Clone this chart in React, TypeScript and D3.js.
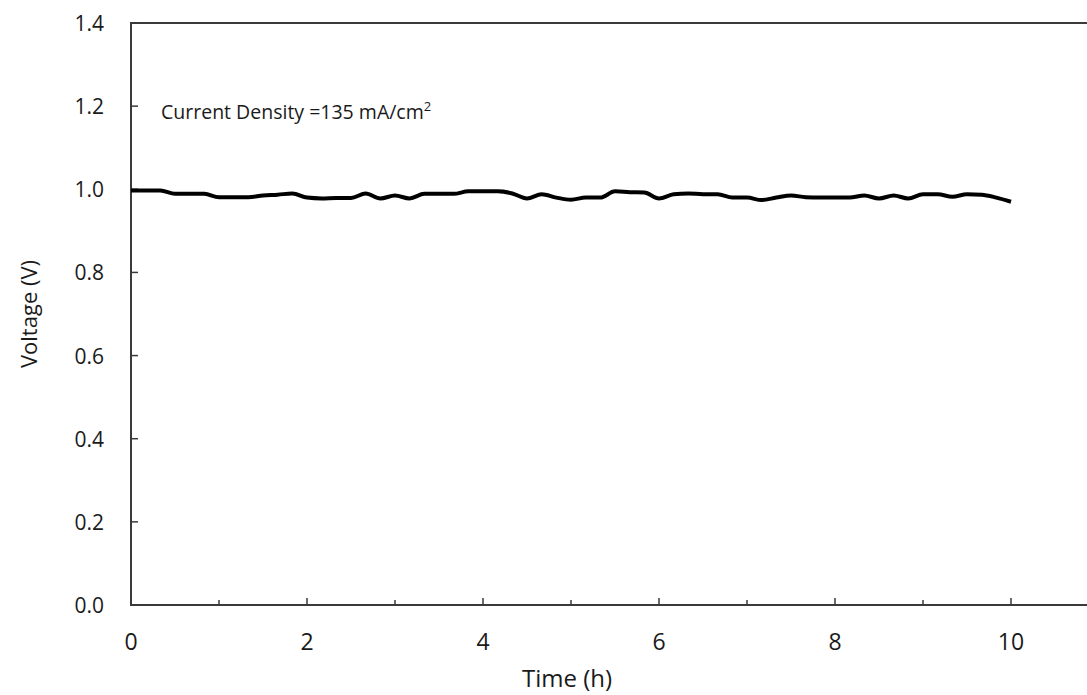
import React from "react";
import * as d3 from "d3";

const timeMinutes: number[] = [
  0, 10, 20, 30, 40, 50, 60, 70, 80, 90, 100, 110, 120, 130, 140, 150, 160, 170, 180, 190,
  200, 210, 220, 230, 240, 250, 260, 270, 280, 290, 300, 310, 320, 330, 340, 350, 360, 370,
  380, 390, 400, 410, 420, 430, 440, 450, 460, 470, 480, 490, 500, 510, 520, 530, 540, 550,
  560, 570, 580, 590, 600,
];

const voltage: number[] = [
  0.997, 0.997, 0.997, 0.989, 0.989, 0.989, 0.981, 0.981, 0.981, 0.985, 0.987, 0.99,
  0.98, 0.978, 0.979, 0.979, 0.99, 0.978, 0.985, 0.978, 0.989, 0.989, 0.989, 0.995,
  0.995, 0.995, 0.99, 0.978, 0.988, 0.98, 0.975, 0.98, 0.98, 0.995, 0.993, 0.992,
  0.978, 0.988, 0.99, 0.988, 0.988, 0.98, 0.98, 0.974, 0.98, 0.985, 0.981, 0.98,
  0.98, 0.98, 0.985, 0.978, 0.985, 0.978, 0.988, 0.988, 0.982, 0.988, 0.987, 0.98, 0.97,
];

const xMajorTicks: number[] = [0, 2, 4, 6, 8, 10];
const xMinorTicks: number[] = [1, 3, 5, 7, 9, 11];
const yTicks: number[] = [0, 0.2, 0.4, 0.6, 0.8, 1.0, 1.2, 1.4];

const xTitle = "Time (h)";
const yTitle = "Voltage (V)";
const annotation = "Current Density =135 mA/cm";

export default function App() {
  const W = 1087;
  const H = 695;
  const left = 131;
  const top = 23;
  const bottom = 605;
  const x = d3.scaleLinear().domain([0, 11]).range([left, left + 88 * 11]);
  const y = d3.scaleLinear().domain([0, 1.4]).range([bottom, top]);

  const pts: [number, number][] = timeMinutes.map((m, i) => [m / 60, voltage[i]]);
  const line = d3
    .line<[number, number]>()
    .x((d) => x(d[0]))
    .y((d) => y(d[1]))
    .curve(d3.curveMonotoneX);

  const axisColor = "#3a3a3a";
  const font = "'Open Sans', sans-serif";

  return (
    <svg
      width={W}
      height={H}
      style={{ position: "absolute", left: 0, top: 0, background: "#fff" }}
      fontFamily={font}
    >
      {/* top border */}
      <line x1={left} x2={W} y1={top} y2={top} stroke={axisColor} strokeWidth={2} />
      {/* y axis */}
      <line x1={left} x2={left} y1={top - 1} y2={bottom + 1} stroke={axisColor} strokeWidth={2} />
      {/* x axis */}
      <line x1={left} x2={W} y1={bottom} y2={bottom} stroke={axisColor} strokeWidth={2} />

      {yTicks.map((t) => (
        <g key={"y" + t}>
          <line x1={left} x2={left + 7} y1={y(t)} y2={y(t)} stroke={axisColor} strokeWidth={1.5} />
          <text x={104} y={y(t) + 8} textAnchor="end" fontSize={21} fill="#1a1a1a">
            {t.toFixed(1)}
          </text>
        </g>
      ))}

      {xMajorTicks.map((t) => (
        <g key={"x" + t}>
          <line x1={x(t)} x2={x(t)} y1={bottom} y2={bottom - 7} stroke={axisColor} strokeWidth={1.5} />
          <text x={x(t)} y={650} textAnchor="middle" fontSize={23} fill="#1a1a1a">
            {t}
          </text>
        </g>
      ))}
      {xMinorTicks.map((t) => (
        <line key={"m" + t} x1={x(t)} x2={x(t)} y1={bottom} y2={bottom - 5} stroke={axisColor} strokeWidth={1.5} />
      ))}

      <path d={line(pts) || ""} fill="none" stroke="#000" strokeWidth={4} strokeLinejoin="round" />

      <text x={161} y={119} fontSize={19.5} fill="#1a1a1a">
        {annotation}
        <tspan fontSize={13} dy={-8}>2</tspan>
      </text>

      <text x={567} y={687} textAnchor="middle" fontSize={24} fill="#1a1a1a">
        {xTitle}
      </text>
      <text
        transform={`translate(37,314) rotate(-90)`}
        textAnchor="middle"
        fontSize={22}
        fill="#1a1a1a"
      >
        {yTitle}
      </text>
    </svg>
  );
}
